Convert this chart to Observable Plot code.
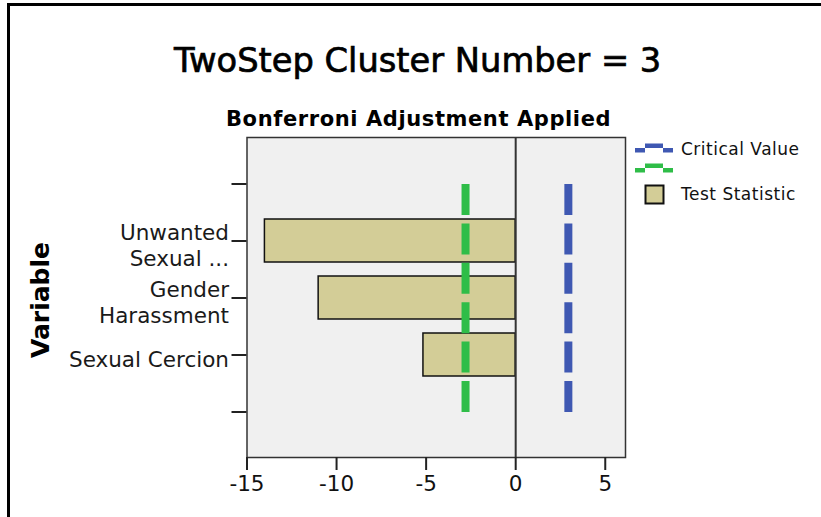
<!DOCTYPE html>
<html>
<head>
<meta charset="utf-8">
<script src="https://cdn.jsdelivr.net/npm/d3@7"></script>
<script src="https://cdn.jsdelivr.net/npm/@observablehq/plot@0.6"></script>
<style>
  html, body { margin: 0; padding: 0; background: #fff; }
  #fig { position: relative; width: 821px; height: 517px; overflow: hidden; background: #fff; font-family: "DejaVu Sans", sans-serif; }
  #bt { position: absolute; left: 7px; top: 3px; width: 814px; height: 3px; background: #000; }
  #bl { position: absolute; left: 7px; top: 3px; width: 3px; height: 514px; background: #000; }
  #overlay { position: absolute; left: 0; top: 0; }
  #plot { position: absolute; left: 0; top: 130px; }
</style>
</head>
<body>
<div id="fig">
  <div id="bt"></div>
  <div id="bl"></div>
  <svg id="overlay" width="821" height="130" font-family="DejaVu Sans">
    <text x="174" y="72" font-size="33.7" fill="#000" stroke="#000" stroke-width="0.7">TwoStep Cluster Number = 3</text>
    <text x="226" y="126" font-size="21" font-weight="bold" letter-spacing="0.6" fill="#000">Bonferroni Adjustment Applied</text>
  </svg>
  <div id="plot"></div>
  <svg id="side" width="821" height="517" style="position:absolute;left:0;top:0;pointer-events:none" font-family="DejaVu Sans">
    <text transform="translate(49,300) rotate(-90)" text-anchor="middle" font-size="25" font-weight="bold" fill="#000">Variable</text>
    <g id="legend"></g>
  </svg>
</div>
<script>
// ---- data ----
const variables = ["Unwanted Sexual ...", "Gender Harassment", "Sexual Cercion"];
const variableLabels = ["Unwanted\nSexual ...", "Gender\nHarassment", "Sexual Cercion"];
const testStatistic = [-14.0, -11.0, -5.15];
const criticalValue = [2.94];
const lowerCriticalValue = [-2.8];
const xTicks = [-15, -10, -5, 0, 5];
const xDomain = [-15, 6.13];

const colors = { bar: "#d3cd97", critical: "#3f58b2", lower: "#2fbd48", panel: "#f0f0f0" };

// ---- derived tables ----
const yDomain = ["top", ...variables, "bottom"];
const bars = variables.map((v, i) => ({ variable: v, value: testStatistic[i] }));
const critLine = criticalValue.flatMap(c => [{ x: c, y: "bottom" }, { x: c, y: "top" }]);
const lowerLine = lowerCriticalValue.flatMap(c => [{ x: c, y: "bottom" }, { x: c, y: "top" }]);

const chart = Plot.plot({
  width: 821,
  height: 387,
  marginTop: 7,
  marginBottom: 60,
  marginLeft: 246.5,
  marginRight: 196,
  style: { fontFamily: "DejaVu Sans", fontSize: "21px", background: "transparent", color: "#111" },
  x: { domain: xDomain, axis: null },
  y: { type: "band", domain: yDomain, paddingInner: 0.253, paddingOuter: 0.4025, axis: null },
  marks: [
    Plot.frame({ fill: colors.panel, stroke: null }),
    Plot.barX(bars, { x1: () => 0, x2: "value", y: "variable", fill: colors.bar, stroke: "#111", strokeWidth: 1.5 }),
    Plot.ruleX([0], { stroke: "#333", strokeWidth: 2 }),
    Plot.line(lowerLine, { x: "x", y: "y", stroke: colors.lower, strokeWidth: 8, strokeDasharray: "31 8.4", strokeLinecap: "butt" }),
    Plot.line(critLine, { x: "x", y: "y", stroke: colors.critical, strokeWidth: 8, strokeDasharray: "31 8.4", strokeLinecap: "butt" }),
    Plot.frame({ stroke: "#333", strokeWidth: 1.5 }),
    Plot.axisX({ ticks: xTicks, tickFormat: d => String(d), tickSize: 13, tickPadding: 5, label: null, stroke: "#222", strokeWidth: 2, fill: "#111", fontSize: 21.5 }),
    Plot.axisY({ tickSize: 15, tickFormat: () => "", label: null, stroke: "#222", strokeWidth: 2 }),
    Plot.text(variables, { y: d => d, text: (d, i) => variableLabels[i], frameAnchor: "left", textAnchor: "end", dx: -18, dy: 4, lineHeight: 1.17, fontSize: 21.5, fill: "#1a1a1a" })
  ]
});
document.getElementById("plot").appendChild(chart);

// ---- legend ----
const lg = d3.select("#legend");
function stepSwatch(y, color) {
  lg.append("rect").attr("x", 635).attr("y", y + 4.5).attr("width", 10).attr("height", 4.5).attr("fill", color);
  lg.append("rect").attr("x", 645).attr("y", y).attr("width", 18).attr("height", 4.5).attr("fill", color);
  lg.append("rect").attr("x", 663).attr("y", y + 4.5).attr("width", 10).attr("height", 4.5).attr("fill", color);
}
stepSwatch(143.5, colors.critical);
stepSwatch(163.5, colors.lower);
lg.append("rect").attr("x", 645.5).attr("y", 185.5).attr("width", 18).attr("height", 18)
  .attr("fill", colors.bar).attr("stroke", "#111").attr("stroke-width", 2);
lg.append("text").attr("x", 681).attr("y", 155).attr("font-size", 17).attr("letter-spacing", 0.5).attr("fill", "#111").text("Critical Value");
lg.append("text").attr("x", 681).attr("y", 200).attr("font-size", 17).attr("letter-spacing", 0.5).attr("fill", "#111").text("Test Statistic");
</script>
</body>
</html>
